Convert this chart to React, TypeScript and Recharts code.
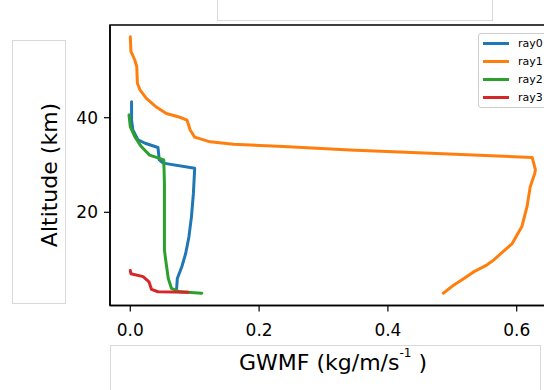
import {
  ReferenceArea,
  Scatter,
  ScatterChart,
  XAxis,
  YAxis,
} from "recharts";

// GWMF (kg/m/s^-1) vs altitude (km) for each ray
const ray0Gwmf = [0.002, 0.002, 0.004, 0.012, 0.023, 0.043, 0.045, 0.051, 0.1, 0.098, 0.095, 0.091, 0.086, 0.08, 0.073, 0.072];
const ray0Alt = [43.4, 39.5, 37.4, 35.3, 34.6, 33.7, 31.1, 30.4, 29.3, 24.0, 19.1, 14.8, 11.3, 8.5, 6.0, 3.9];

const ray1Gwmf = [
  0.0, 0.001, 0.007, 0.01, 0.011, 0.015, 0.025, 0.041, 0.056, 0.077, 0.088, 0.093, 0.1, 0.124, 0.16,
  0.238, 0.341, 0.466, 0.624, 0.629, 0.628, 0.621, 0.616, 0.608, 0.593, 0.564, 0.554, 0.533, 0.518,
  0.502, 0.486,
];
const ray1Alt = [
  57.1, 54.0, 52.2, 50.8, 47.3, 45.9, 44.1, 42.2, 40.9, 40.1, 39.5, 37.4, 35.9, 34.9, 34.4, 33.9,
  33.2, 32.5, 31.6, 29.0, 28.2, 25.4, 21.2, 17.0, 13.4, 9.9, 8.9, 7.4, 6.0, 4.6, 2.9,
];

const ray2Gwmf = [-0.002, 0.0, 0.007, 0.017, 0.03, 0.043, 0.052, 0.053, 0.053, 0.055, 0.059, 0.064, 0.077, 0.111];
const ray2Alt = [40.6, 38.1, 36.0, 33.9, 32.1, 31.5, 31.1, 26.1, 12.0, 9.9, 6.0, 3.9, 3.2, 2.9];

const ray3Gwmf = [0.0, 0.001, 0.02, 0.029, 0.033, 0.043, 0.09];
const ray3Alt = [7.7, 7.0, 6.4, 5.3, 3.7, 3.2, 3.1];

const xTicks = [0, 0.2, 0.4, 0.6];
const yTicks = [20, 40];

const X_MIN = -0.0315;
const X_MAX = 0.661;
const Y_MIN = 0.3;
const Y_MAX = 59.6;

const FONT = "DejaVu Sans";

const zip = (xs: number[], ys: number[]) => xs.map((x, i) => ({ x, y: ys[i] }));

const series = [
  { name: "ray0", color: "#1f77b4", data: zip(ray0Gwmf, ray0Alt) },
  { name: "ray1", color: "#ff7f0e", data: zip(ray1Gwmf, ray1Alt) },
  { name: "ray2", color: "#2ca02c", data: zip(ray2Gwmf, ray2Alt) },
  { name: "ray3", color: "#d62728", data: zip(ray3Gwmf, ray3Alt) },
];

const noDot = () => <g />;

// matplotlib-style legend box, top right (partly clipped like the reference)
function RayLegend() {
  return (
    <div
      style={{
        position: "absolute",
        left: 478,
        top: 33,
        border: "1px solid #cccccc",
        borderRadius: 3,
        background: "rgba(255,255,255,0.8)",
        padding: "0px 20px 1px 4px",
        fontFamily: FONT,
        fontSize: 11,
        color: "#000",
      }}
    >
      {series.map((s) => (
        <div key={s.name} style={{ display: "flex", alignItems: "center", height: 18 }}>
          <span style={{ display: "inline-block", width: 26, height: 3, background: s.color, marginRight: 9 }} />
          <span>{s.name}</span>
        </div>
      ))}
    </div>
  );
}

const grayBox = (style: React.CSSProperties) => (
  <div style={{ position: "absolute", border: "1px solid #d9d9d9", boxSizing: "border-box", ...style }} />
);

export default function App() {
  return (
    <div
      style={{
        position: "absolute",
        left: 0,
        top: 0,
        width: 544,
        height: 390,
        overflow: "hidden",
        background: "#fff",
      }}
    >
      {grayBox({ left: 12, top: 40, width: 54, height: 264 })}
      {grayBox({ left: 217, top: -2, width: 276, height: 23 })}
      {grayBox({ left: 110, top: 345, width: 431, height: 60 })}
      <ScatterChart
        width={580}
        height={390}
        margin={{ top: 25, right: 24, bottom: 44.5, left: 50 }}
        style={{ position: "absolute", left: 0, top: 0 }}
      >
        <XAxis
          type="number"
          dataKey="x"
          domain={[X_MIN, X_MAX]}
          allowDataOverflow
          ticks={xTicks}
          tickFormatter={(v: number) => v.toFixed(1)}
          height={40}
          tickSize={6}
          tickMargin={12}
          axisLine={{ stroke: "#000", strokeWidth: 1.5 }}
          tickLine={{ stroke: "#000", strokeWidth: 1.2 }}
          tick={{ fill: "#000", fontSize: 17, fontFamily: FONT }}
          label={({ viewBox }: any) => (
            <text
              x={viewBox.x + viewBox.width / 2}
              y={362}
              textAnchor="middle"
              dominantBaseline="central"
              fontFamily={FONT}
              fontSize={22}
              fill="#000"
            >
              GWMF (kg/m/s
              <tspan fontSize={12} dy={-9}>
                -1
              </tspan>
              <tspan dy={9}> )</tspan>
            </text>
          )}
        />
        <YAxis
          type="number"
          dataKey="y"
          domain={[Y_MIN, Y_MAX]}
          allowDataOverflow
          ticks={yTicks}
          width={60}
          tickSize={6}
          tickMargin={6}
          axisLine={{ stroke: "#000", strokeWidth: 1.5 }}
          tickLine={{ stroke: "#000", strokeWidth: 1.2 }}
          tick={{ fill: "#000", fontSize: 17, fontFamily: FONT }}
          label={() => (
            <text
              x={49}
              y={175}
              transform="rotate(-90 49 175)"
              textAnchor="middle"
              dominantBaseline="central"
              fontFamily={FONT}
              fontSize={22}
              fill="#000"
            >
              Altitude (km)
            </text>
          )}
        />
        <ReferenceArea
          x1={X_MIN}
          x2={X_MAX}
          y1={Y_MIN}
          y2={Y_MAX}
          fill="none"
          stroke="#000"
          strokeWidth={1.5}
        />
        {series.map((s) => (
          <Scatter
            key={s.name}
            name={s.name}
            data={s.data}
            fill={s.color}
            stroke={s.color}
            line={{ stroke: s.color, strokeWidth: 3, strokeLinejoin: "round", strokeLinecap: "round" }}
            shape={noDot}
            isAnimationActive={false}
          />
        ))}
      </ScatterChart>
      <RayLegend />
    </div>
  );
}
